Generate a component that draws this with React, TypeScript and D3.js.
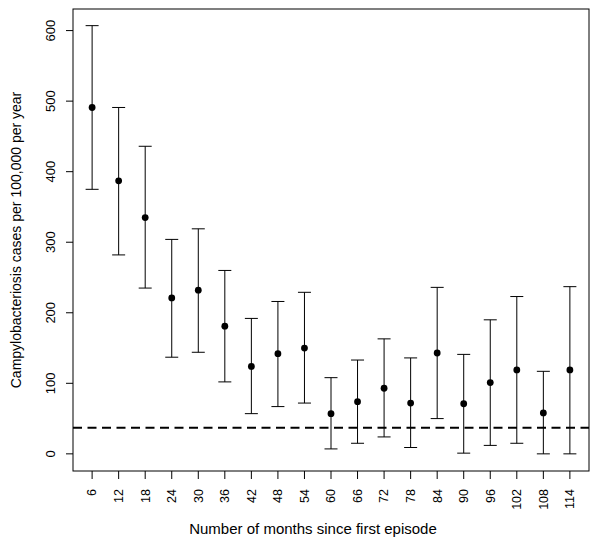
import React from "react";
import * as d3 from "d3";

const months = [6, 12, 18, 24, 30, 36, 42, 48, 54, 60, 66, 72, 78, 84, 90, 96, 102, 108, 114];
const rate = [491, 387, 335, 221, 232, 181, 124, 142, 150, 57, 74, 93, 72, 143, 71, 101, 119, 58, 119];
const lower = [375, 282, 235, 137, 144, 102, 57, 67, 72, 7, 15, 24, 9, 50, 1, 12, 15, 0, 0];
const upper = [607, 491, 436, 304, 319, 260, 192, 216, 229, 108, 133, 163, 136, 236, 141, 190, 223, 117, 237];
const yTicks = [0, 100, 200, 300, 400, 500, 600];
const baseline = 37;
const xTitle = "Number of months since first episode";
const yTitle = "Campylobacteriosis cases per 100,000 per year";

const W = 600, H = 545;
const L = 73, R = 589, T = 9, B = 471;
const font = "'Liberation Sans', Arial, Helvetica, sans-serif";

export default function App() {
  const x = d3.scaleLinear().domain([1.68, 118.32]).range([L, R]);
  const y = d3.scaleLinear().domain([-24.3, 630.6]).range([B, T]);
  const cap = 6.5;
  return (
    <svg width={W} height={H} style={{ position: "absolute", left: 0, top: 0, background: "#fff" }} fontFamily={font}>
      <rect x={0} y={0} width={W} height={H} fill="#fff" />
      <line x1={L} x2={R} y1={y(baseline)} y2={y(baseline)} stroke="#000" strokeWidth={2} strokeDasharray="9,5.5" />
      {months.map((m, i) => (
        <g key={m} stroke="#000" strokeWidth={1}>
          <line x1={x(m)} x2={x(m)} y1={y(lower[i])} y2={y(upper[i])} />
          <line x1={x(m) - cap} x2={x(m) + cap} y1={y(lower[i])} y2={y(lower[i])} />
          <line x1={x(m) - cap} x2={x(m) + cap} y1={y(upper[i])} y2={y(upper[i])} />
          <circle cx={x(m)} cy={y(rate[i])} r={3.4} fill="#000" stroke="none" />
        </g>
      ))}
      <rect x={L} y={T} width={R - L} height={B - T} fill="none" stroke="#000" strokeWidth={1} />
      {yTicks.map((t) => (
        <g key={t}>
          <line x1={L - 7} x2={L} y1={y(t)} y2={y(t)} stroke="#000" />
          <text transform={`translate(55,${y(t)}) rotate(-90)`} textAnchor="middle" fontSize={13}>{t}</text>
        </g>
      ))}
      {months.map((m) => (
        <g key={m}>
          <line x1={x(m)} x2={x(m)} y1={B} y2={B + 8} stroke="#000" />
          <text transform={`translate(${x(m)},489) rotate(-90)`} textAnchor="end" dy="0.35em" fontSize={12.5}>{m}</text>
        </g>
      ))}
      <text x={313} y={534} textAnchor="middle" fontSize={15}>{xTitle}</text>
      <text transform={`translate(21,${(T + B) / 2}) rotate(-90)`} textAnchor="middle" fontSize={14}>{yTitle}</text>
    </svg>
  );
}
